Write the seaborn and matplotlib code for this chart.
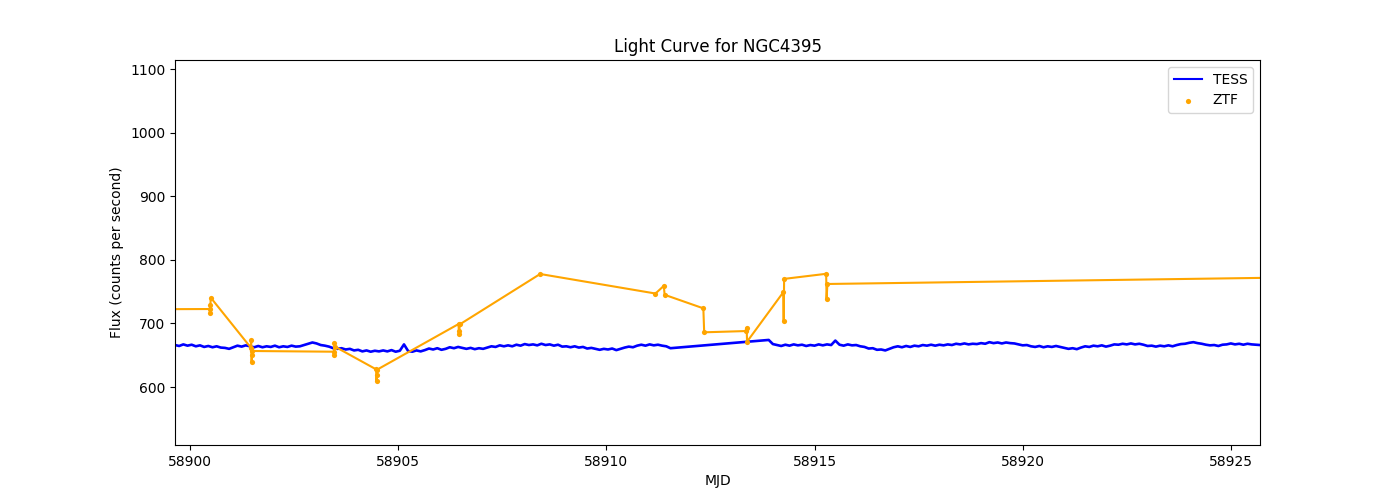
import numpy as np
import pandas as pd
import matplotlib
matplotlib.use("Agg")
import matplotlib.pyplot as plt
import seaborn as sns

# ---------------- data ----------------
title = "Light Curve for NGC4395"
x_label = "MJD"
y_label = "Flux (counts per second)"

# TESS: two orbits sampled at a regular cadence (start MJD, cadence in days)
tess_start_1 = 58899.64
tess_start_2 = 58913.90
tess_cadence = 0.1
tess_flux_1 = [
    666, 664.5, 667, 665, 666.5, 664, 665.5, 663, 664.5, 662.5,
    664, 662, 661.5, 660, 662.5, 665, 663.5, 665.5, 664, 662.5,
    664.5, 662.5, 664, 663, 665, 662.5, 664, 663, 665, 663.5,
    664, 666, 668, 670, 668.5, 666, 665, 663.5, 661, 660,
    661, 659, 660, 657.5, 658.5, 656, 657.5, 655.5, 657, 656,
    657.5, 656, 658, 655.5, 657, 667, 656.5, 655.5, 657.5, 656,
    658, 660.5, 659, 661, 658.5, 660, 662.5, 661, 663, 661.5,
    660, 661.5, 659.5, 661, 660, 662, 664, 663, 665.5, 664,
    665.5, 664, 666.5, 665, 667.5, 666, 667, 665.5, 668, 666,
    667, 665, 666.5, 663.5, 664, 662.5, 664, 662, 663, 660.5,
    661.5, 660, 658.5, 660, 659, 660.5, 658, 660, 662, 663.5,
    662.5, 665, 666.5, 665, 667, 665.5, 666.5, 665, 664, 661,
]
tess_flux_2 = [
    674, 667.5, 666, 664.5, 666.5, 665, 667, 665.5, 666.5, 664.5,
    666, 665, 667, 665.5, 667, 666, 673, 666.5, 665, 667,
    665.5, 666, 664, 663, 660.5, 661, 658.5, 659, 657.5, 660,
    662.5, 664, 662.5, 664.5, 663, 665, 664, 666, 665, 666.5,
    665, 666.5, 665.5, 667, 666, 668, 667, 668.5, 667, 668,
    667.5, 669, 668, 670.5, 669, 670, 668.5, 670, 669, 668.5,
    667, 665.5, 666, 664, 663, 664.5, 662.5, 664, 663, 664.5,
    663, 661.5, 660, 661, 659.5, 662, 664, 663, 665, 664,
    665.5, 663.5, 665, 667, 666.5, 668, 667, 668.5, 667, 668,
    666.5, 664.5, 665, 663.5, 665, 664, 665.5, 664, 666, 667.5,
    668, 669.5, 670.5, 669, 668, 666.5, 665.5, 666, 664.5, 666.5,
    667, 668.5, 667, 668, 666.5, 668, 667, 666.5, 666,
]

# ZTF photometry (in observation order)
ztf_mjd = [
    58897.50,
    58900.47, 58900.48, 58900.49, 58900.50,
    58901.46, 58901.47, 58901.48, 58901.49, 58901.50,
    58903.45, 58903.46, 58903.47, 58903.48,
    58904.47, 58904.48, 58904.49, 58904.50,
    58906.45, 58906.46, 58906.47, 58906.48,
    58908.41,
    58911.18, 58911.38, 58911.40,
    58912.33, 58912.35,
    58913.36, 58913.37, 58913.38,
    58914.25, 58914.26, 58914.27,
    58915.28, 58915.29, 58915.31,
    58930.00,
]
ztf_flux = [
    722,
    722.6, 715.8, 729, 740.4,
    662, 674, 638.8, 650.3, 656.6,
    655.5, 650.3, 668.7, 663.5,
    627.8, 609.4, 619, 627.5,
    699, 683, 688.5, 698.5,
    777.7,
    747, 759, 745,
    723.7, 686,
    688, 693.3, 671.3,
    749, 704, 770,
    778, 738, 762,
    775.5,
]

y_limits = (508.8, 1114.2)

# ---------------- build tables ----------------
t1 = tess_start_1 + tess_cadence * np.arange(len(tess_flux_1))
t2 = tess_start_2 + tess_cadence * np.arange(len(tess_flux_2))
tess = pd.DataFrame({
    "mjd": np.concatenate([t1, t2]),
    "flux": tess_flux_1 + tess_flux_2,
})
ztf = pd.DataFrame({"mjd": ztf_mjd, "flux": ztf_flux})

# ---------------- plot ----------------
fig, ax = plt.subplots(figsize=(14, 5), dpi=100)

sns.lineplot(data=tess, x="mjd", y="flux", color="blue", linewidth=1.9,
             label="TESS", ax=ax, estimator=None)
sns.lineplot(data=ztf, x="mjd", y="flux", color="orange", linewidth=1.5,
             sort=False, estimator=None, ax=ax, legend=False)
sns.scatterplot(data=ztf, x="mjd", y="flux", color="orange", s=14,
                linewidth=0, label="ZTF", ax=ax, zorder=3)

ax.set_xlim(tess["mjd"].min(), tess["mjd"].max())
ax.set_ylim(*y_limits)
ax.ticklabel_format(axis="x", useOffset=False)
ax.set_title(title)
ax.set_xlabel(x_label)
ax.set_ylabel(y_label)
leg = ax.legend(loc="upper right")
for h in leg.legend_handles:
    if hasattr(h, "set_linewidth") and h.get_label() == "TESS":
        h.set_linewidth(1.5)

fig.savefig("out.png", dpi=100)
